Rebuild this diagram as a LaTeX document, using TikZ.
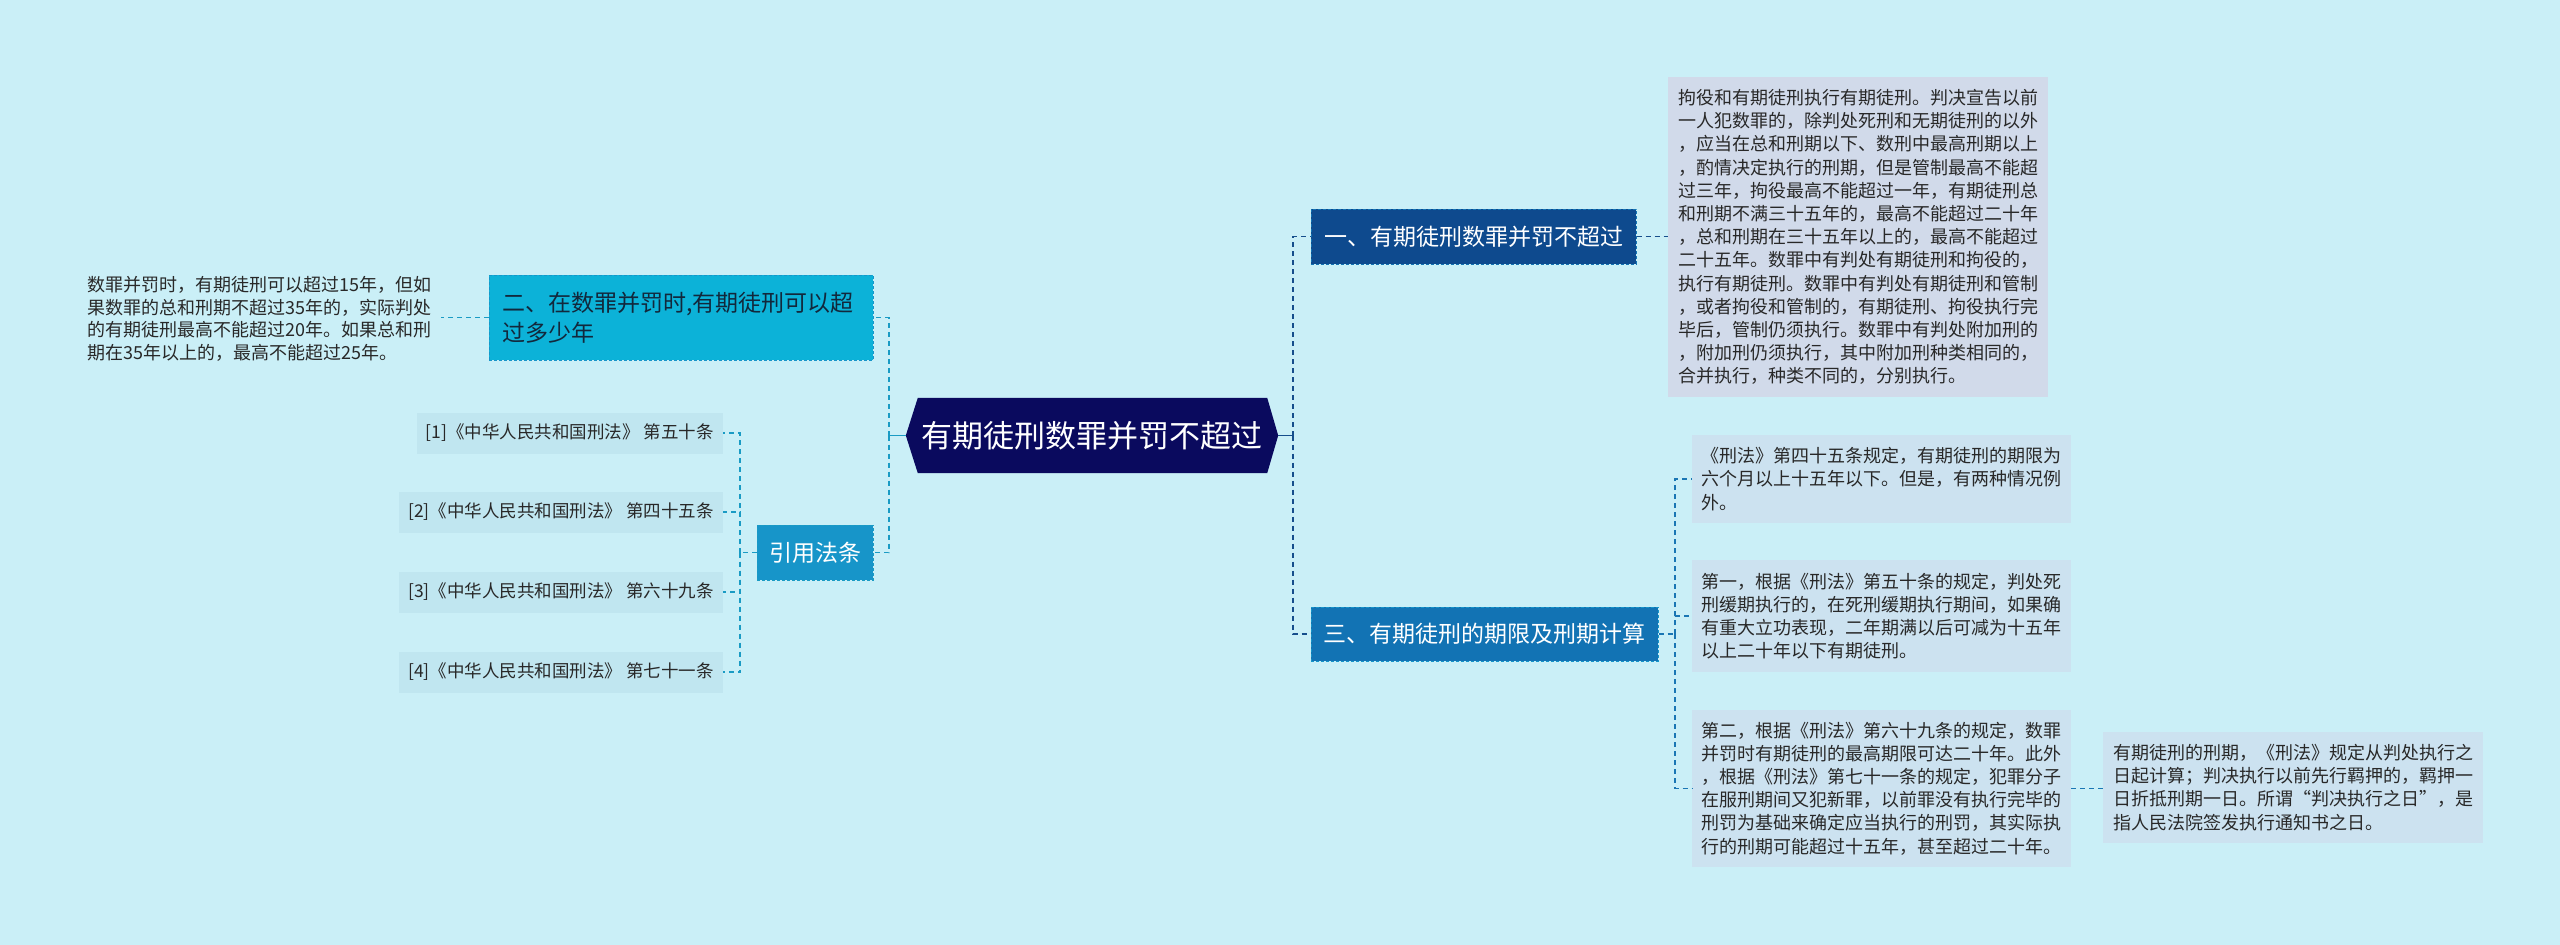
\documentclass[tikz,border=0pt]{standalone}
\usepackage{fontspec}
\setmainfont{Noto Sans CJK SC}
\usetikzlibrary{backgrounds}
\definecolor{pagebg}{RGB}{202,239,247}
\definecolor{navy}{RGB}{10,10,94}
\definecolor{blueA}{RGB}{14,74,142}
\definecolor{blueB}{RGB}{18,115,180}
\definecolor{cyanA}{RGB}{12,178,216}
\definecolor{cyanB}{RGB}{23,149,201}
\definecolor{boxA}{RGB}{209,218,234}
\definecolor{boxB}{RGB}{204,226,240}
\definecolor{itemfill}{RGB}{192,230,240}
\definecolor{txt}{RGB}{40,40,40}
\definecolor{darktxt}{RGB}{18,40,60}
\definecolor{lconnc}{RGB}{26,155,196}
\definecolor{rconnc}{RGB}{22,78,140}
\definecolor{kconnc}{RGB}{26,118,180}
\tikzset{
  dashline/.style={line width=1.6pt, dash pattern=on 5pt off 4pt},
  lconn/.style={dashline, draw=lconnc},
  rconn/.style={dashline, draw=rconnc},
  kconn/.style={dashline, draw=kconnc},
  tick/.style={line width=1.6pt},
  mainbox/.style={inner xsep=0pt, inner ysep=0pt, text=white, font=\fontsize{31}{36}\selectfont},
  topic/.style={inner xsep=12pt, inner ysep=0pt, font=\fontsize{23}{30}\selectfont, align=left},
  tbox/.style={fill=boxB, text=txt, font=\fontsize{18}{23.2}\selectfont, align=left,
     inner xsep=9.5pt, inner ysep=0pt, text width=360pt},
  itembox/.style={fill=itemfill, text=txt, font=\fontsize{17.5}{21}\selectfont,
     inner xsep=9pt, inner ysep=0pt, minimum height=41pt, anchor=east},
}
\begin{document}
\begin{tikzpicture}[x=1pt,y=-1pt]
\useasboundingbox (0,0) rectangle (2560,945);

% central node
\node[mainbox, minimum width=372pt, minimum height=75pt] (c) at (1092,435.5) {有期徒刑数罪并罚不超过};

% right branch
\node[topic, fill=blueA, draw=blueB, densely dashed, line width=1pt, text=white,
      minimum width=325pt, minimum height=55pt] (n1) at (1473.5,236.5) {一、有期徒刑数罪并罚不超过};
\node[topic, fill=blueB, draw=cyanB, densely dashed, line width=1pt, text=white,
      minimum width=347pt, minimum height=54pt] (n3) at (1484.5,634) {三、有期徒刑的期限及刑期计算};

\node[tbox, fill=boxA, inner xsep=10pt, minimum height=320pt] (t1) at (1858,237) {拘役和有期徒刑执行有期徒刑。判决宣告以前\\一人犯数罪的，除判处死刑和无期徒刑的以外\\，应当在总和刑期以下、数刑中最高刑期以上\\，酌情决定执行的刑期，但是管制最高不能超\\过三年，拘役最高不能超过一年，有期徒刑总\\和刑期不满三十五年的，最高不能超过二十年\\，总和刑期在三十五年以上的，最高不能超过\\二十五年。数罪中有判处有期徒刑和拘役的，\\执行有期徒刑。数罪中有判处有期徒刑和管制\\，或者拘役和管制的，有期徒刑、拘役执行完\\毕后，管制仍须执行。数罪中有判处附加刑的\\，附加刑仍须执行，其中附加刑种类相同的，\\合并执行，种类不同的，分别执行。};

\node[tbox, minimum height=88pt] (k1) at (1881.5,479) {《刑法》第四十五条规定，有期徒刑的期限为\\六个月以上十五年以下。但是，有两种情况例\\外。};
\node[tbox, minimum height=112pt] (k2) at (1881.5,616) {第一，根据《刑法》第五十条的规定，判处死\\刑缓期执行的，在死刑缓期执行期间，如果确\\有重大立功表现，二年期满以后可减为十五年\\以上二十年以下有期徒刑。};
\node[tbox, minimum height=157pt] (k3) at (1881.5,788.5) {第二，根据《刑法》第六十九条的规定，数罪\\并罚时有期徒刑的最高期限可达二十年。此外\\，根据《刑法》第七十一条的规定，犯罪分子\\在服刑期间又犯新罪，以前罪没有执行完毕的\\刑罚为基础来确定应当执行的刑罚，其实际执\\行的刑期可能超过十五年，甚至超过二十年。};
\node[tbox, inner xsep=10pt, minimum height=111pt] (g) at (2293,787.5) {有期徒刑的刑期，《刑法》规定从判处执行之\\日起计算；判决执行以前先行羁押的，羁押一\\日折抵刑期一日。所谓“判决执行之日”，是\\指人民法院签发执行通知书之日。};

% left branch
\node[topic, fill=cyanA, draw=cyanB, densely dashed, line width=1pt, text=darktxt,
      text width=358pt, inner xsep=13pt, minimum height=85pt] (n2) at (681,317.5) {二、在数罪并罚时,有期徒刑可以超\\过多少年};
\node[text=txt, font=\fontsize{18}{22.7}\selectfont, align=left, inner xsep=10pt, inner ysep=0pt, anchor=west] (lt) at (77,319) {数罪并罚时，有期徒刑可以超过15年，但如\\果数罪的总和刑期不超过35年的，实际判处\\的有期徒刑最高不能超过20年。如果总和刑\\期在35年以上的，最高不能超过25年。};

\node[topic, fill=cyanB, draw=lconnc, densely dashed, line width=1pt, text=white, inner xsep=0pt,
      minimum width=116pt, minimum height=55pt] (ref) at (815,552.5) {引用法条};

\node[itembox] (i1) at (723,433) {[1]《中华人民共和国刑法》 第五十条};
\node[itembox] (i2) at (723,512) {[2]《中华人民共和国刑法》 第四十五条};
\node[itembox] (i3) at (723,592) {[3]《中华人民共和国刑法》 第六十九条};
\node[itembox] (i4) at (723,672) {[4]《中华人民共和国刑法》 第七十一条};

% junction coordinates
\coordinate (lj) at (889,435.5);
\coordinate (rj) at (1293,435.5);
\coordinate (kj) at (1675,634);
\coordinate (ij) at (740,552.5);

% connectors
\draw[tick, draw=lconnc] (c.west) -- (lj);
\draw[lconn] (lj) |- (n2.east);
\draw[lconn] (lj) |- (ref.east);
\draw[lconn] (n2.west) -- (n2.west -| lt.east);
\draw[lconn] (ref.west) -- (ij);
\draw[lconn] (ij) |- (i1.east);
\draw[lconn] (ij) |- (i2.east);
\draw[lconn] (ij) |- (i3.east);
\draw[lconn] (ij) |- (i4.east);

\draw[tick, draw=rconnc] (c.east) -- (rj);
\draw[rconn] (rj) |- (n1.west);
\draw[rconn] (rj) |- (n3.west);
\draw[rconn] (n1.east) -- (n1.east -| t1.west);
\draw[kconn] (n3.east) -- (kj);
\draw[kconn] (kj) |- (k1.west);
\draw[kconn] (kj) |- (k2.west);
\draw[kconn] (kj) |- (k3.west);
\draw[kconn] (k3.east) -- (k3.east -| g.west);

% backgrounds
\begin{scope}[on background layer]
\fill[pagebg] (0,0) rectangle (2560,945);
\fill[navy] (c.north west) ++(12,0) -- ([xshift=-11pt]c.north east) -- (c.east) -- ([xshift=-11pt]c.south east) -- ([xshift=12pt]c.south west) -- (c.west) -- cycle;
\end{scope}
\end{tikzpicture}
\end{document}
